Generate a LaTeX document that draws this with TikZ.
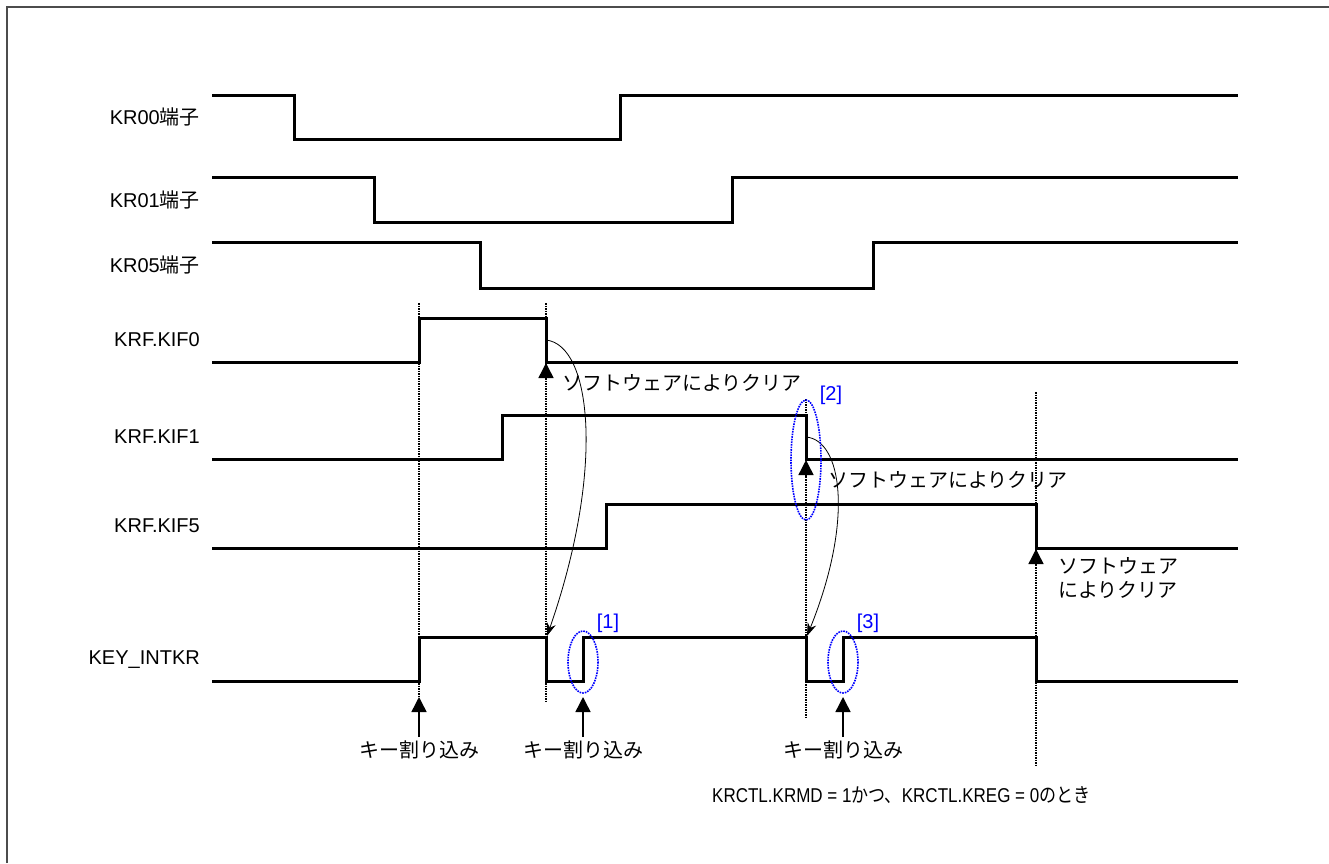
\documentclass[tikz,border=0pt]{standalone}
\usepackage{fontspec}
\setmainfont{Liberation Sans}
\newfontfamily\jp{Noto Sans CJK JP}
\usetikzlibrary{arrows.meta, positioning}

\begin{document}
\begin{tikzpicture}[x=1pt, y=-1pt,
    every node/.style={font=\fontsize{20}{24}\selectfont, inner sep=0pt},
    sig/.style={line width=3pt, line join=miter},
    guide/.style={densely dotted, line width=1.5pt},
    ring/.style={blue, densely dotted, line width=1.6pt},
    uptip/.style={-{Triangle[length=15pt,width=15pt]}, line width=1.5pt},
    curvearrow/.style={-{Stealth[length=13pt,width=9pt]}, line width=0.8pt}]
    \useasboundingbox (0,0) rectangle (1329,863);
    \draw[black!70, line width=2pt] (7,863) -- (7,7) -- (1329,7);

    % signal names
    \node[anchor=east] (lkr00) at (200,117) {KR00{\jp 端子}};
    \node[anchor=east] (lkr01) at (200,200) {KR01{\jp 端子}};
    \node[anchor=east] (lkr05) at (200,265) {KR05{\jp 端子}};
    \node[anchor=east] (lkif0) at (200,340) {KRF.KIF0};
    \node[anchor=east] (lkif1) at (200,437) {KRF.KIF1};
    \node[anchor=east] (lkif5) at (200,526) {KRF.KIF5};
    \node[anchor=east] (lintkr) at (200,660) {KEY\_INTKR};

    % waveforms
    \draw[sig] (212,95) -- (294,95) -- (294,139) -- (620,139) -- (620,95) -- (1238,95);
    \draw[sig] (212,177) -- (374,177) -- (374,222) -- (732,222) -- (732,177) -- (1238,177);
    \draw[sig] (212,242) -- (480,242) -- (480,288) -- (873,288) -- (873,242) -- (1238,242);
    \draw[sig] (212,362) -- (419,362) -- (419,318) -- (546,318) -- (546,362) -- (1238,362);
    \draw[sig] (212,459) -- (502,459) -- (502,415) -- (806,415) -- (806,459) -- (1238,459);
    \draw[sig] (212,548) -- (606,548) -- (606,504) -- (1036,504) -- (1036,548) -- (1238,548);
    \draw[sig] (212,681) -- (419,681) -- (419,637) -- (546,637) -- (546,681) -- (583,681)
      -- (583,637) -- (806,637) -- (806,681) -- (843,681) -- (843,637) -- (1036,637)
      -- (1036,681) -- (1238,681);

    % guide lines
    \draw[guide] (419,303) -- (419,697);
    \draw[guide] (546,303) -- (546,702);
    \draw[guide] (806,399) -- (806,718);
    \draw[guide] (1036,392) -- (1036,765);

    % cleared by software
    \coordinate (clr0) at (546,363);
    \coordinate (clr1) at (806,460);
    \coordinate (clr5) at (1036,549);
    \draw[uptip] (546,380) -- (clr0);
    \draw[uptip] (806,477) -- (clr1);
    \draw[uptip] (1036,566) -- (clr5);
    \node[anchor=west] (sw0) at (562,383) {\jp ソフトウェアによりクリア};
    \node[anchor=west] (sw1) at (828,480) {\jp ソフトウェアによりクリア};
    \node[anchor=west, align=left, font=\fontsize{20}{24}\selectfont\jp] (sw5) at (1058,578)
      {ソフトウェア\\によりクリア};

    % flag to interrupt
    \coordinate (from0) at (546,340);
    \coordinate (to0) at (547,636);
    \coordinate (from1) at (806,437);
    \coordinate (to1) at (807,636);
    \draw[curvearrow] (from0) .. controls (592,345) and (605,470) .. (to0);
    \draw[curvearrow] (from1) .. controls (842,440) and (854,520) .. (to1);

    % key interrupts
    \coordinate (irq0b) at (419,737);
    \coordinate (irq1b) at (583,737);
    \coordinate (irq2b) at (843,737);
    \coordinate (irq0t) at (419,697);
    \coordinate (irq1t) at (583,697);
    \coordinate (irq2t) at (843,697);
    \draw[uptip] (irq0b) -- (irq0t);
    \draw[uptip] (irq1b) -- (irq1t);
    \draw[uptip] (irq2b) -- (irq2t);
    \node[below=4pt of irq0b] (irq0) {\jp キー割り込み};
    \node[below=4pt of irq1b] (irq1) {\jp キー割り込み};
    \node[below=4pt of irq2b] (irq2) {\jp キー割り込み};

    % marks
    \draw[ring] (583,662) ellipse [x radius=15, y radius=31];
    \draw[ring] (806,460) ellipse [x radius=15, y radius=60];
    \draw[ring] (843,662) ellipse [x radius=15, y radius=31];
    \node[text=blue] (m1) at (608,623) {[1]};
    \node[text=blue] (m2) at (831,395) {[2]};
    \node[text=blue] (m3) at (868,623) {[3]};

    \node[anchor=west] (cond) at (712,795)
      {\scalebox{0.85}[1]{KRCTL.KRMD = 1{\jp かつ、}KRCTL.KREG = 0{\jp のとき}}};
\end{tikzpicture}
\end{document}
